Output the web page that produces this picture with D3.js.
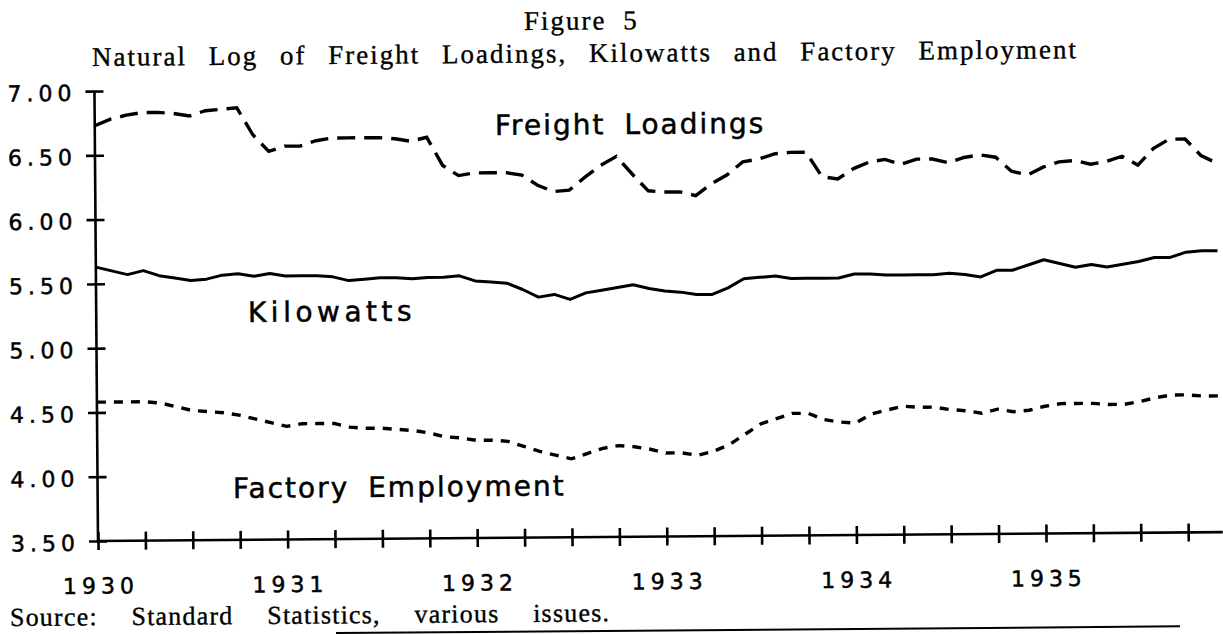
<!DOCTYPE html>
<html>
<head>
<style>
  body { margin: 0; background: #fff; }
  svg { display: block; }
  .serif { font-family: "Liberation Serif", "Times New Roman", serif; fill: #000; stroke: #000; stroke-width: 0.35px; }
  .sans { font-family: "DejaVu Sans", sans-serif; fill: #000; stroke: #000; stroke-width: 0.5px; }
  .axis path, .axis line { stroke: #000; stroke-width: 2.6px; }
</style>
</head>
<body>
<div id="chart"></div>
<script src="https://cdnjs.cloudflare.com/ajax/libs/d3/7.8.5/d3.min.js"></script>
<script>
// monthly series, Jan 1930 .. Dec 1935 (natural logs)
const years = ["1930", "1931", "1932", "1933", "1934", "1935"];
const yTicks = [3.5, 4.0, 4.5, 5.0, 5.5, 6.0, 6.5, 7.0];

const freight = [
  6.73, 6.78, 6.81, 6.83, 6.83, 6.82, 6.80, 6.84, 6.85, 6.86, 6.65, 6.52,
  6.56, 6.56, 6.60, 6.62, 6.62, 6.62, 6.62, 6.61, 6.59, 6.62, 6.40, 6.32,
  6.34, 6.34, 6.34, 6.32, 6.24, 6.19, 6.20, 6.30, 6.39, 6.46, 6.32, 6.19,
  6.18, 6.18, 6.15, 6.24, 6.31, 6.41, 6.43, 6.47, 6.48, 6.48, 6.29, 6.27,
  6.35, 6.40, 6.42, 6.38, 6.42, 6.42, 6.39, 6.43, 6.45, 6.43, 6.32, 6.29,
  6.35, 6.39, 6.40, 6.37, 6.39, 6.43, 6.36, 6.49, 6.56, 6.56, 6.43, 6.37
];
const kilowatts = [
  5.63, 5.60, 5.57, 5.60, 5.56, 5.54, 5.52, 5.53, 5.56, 5.57, 5.55, 5.57,
  5.55, 5.55, 5.55, 5.54, 5.51, 5.52, 5.53, 5.53, 5.52, 5.53, 5.53, 5.54,
  5.50, 5.49, 5.48, 5.43, 5.37, 5.39, 5.35, 5.40, 5.42, 5.44, 5.46, 5.43,
  5.41, 5.40, 5.38, 5.38, 5.43, 5.50, 5.51, 5.52, 5.50, 5.50, 5.50, 5.50,
  5.53, 5.53, 5.52, 5.52, 5.52, 5.52, 5.53, 5.52, 5.50, 5.55, 5.55, 5.59,
  5.63, 5.60, 5.57, 5.59, 5.57, 5.59, 5.61, 5.64, 5.64, 5.68, 5.69, 5.69
];
const factory = [
  4.58, 4.58, 4.58, 4.58, 4.57, 4.54, 4.51, 4.50, 4.49, 4.47, 4.44, 4.41,
  4.38, 4.40, 4.40, 4.40, 4.37, 4.36, 4.36, 4.35, 4.34, 4.32, 4.29, 4.28,
  4.26, 4.26, 4.25, 4.21, 4.17, 4.14, 4.11, 4.15, 4.19, 4.21, 4.20, 4.18,
  4.15, 4.15, 4.13, 4.16, 4.21, 4.29, 4.37, 4.41, 4.45, 4.45, 4.40, 4.38,
  4.37, 4.44, 4.47, 4.50, 4.49, 4.49, 4.47, 4.46, 4.44, 4.47, 4.45, 4.46,
  4.49, 4.51, 4.51, 4.51, 4.50, 4.50, 4.52, 4.55, 4.57, 4.57, 4.56, 4.56
];

const width = 1223, height = 634;
const svg = d3.select("#chart").append("svg")
    .attr("width", width)
    .attr("height", height);

// the scanned page sits slightly tilted, so everything is drawn in a rotated group
const tilt = -0.45;
const origin = [98, 541];
const t = Math.tan(-tilt * Math.PI / 180);
const g = svg.append("g")
    .attr("transform", `rotate(${tilt},${origin[0]},${origin[1]})`);

// position as seen on the page -> position inside the rotated group
function unrot(xo, yo) {
    return [xo - (yo - origin[1]) * t, yo + (xo - origin[0]) * t];
}

const x = d3.scaleLinear().domain([0, 71]).range([98, 98 + 71 * 15.8]);
const y = d3.scaleLinear().domain([3.5, 7]).range([541, 91]);

// y axis
const yAxis = g.append("g")
    .attr("class", "axis")
    .attr("transform", `translate(${x(0)},0)`)
    .call(d3.axisLeft(y)
        .tickValues(yTicks)
        .tickSize(9)
        .tickPadding(9)
        .tickFormat(d3.format(".2f")));
yAxis.select(".domain").attr("d", `M0,${y(7)}V${y(3.5)}`);
yAxis.selectAll(".tick line").attr("x1", 9);
yAxis.selectAll(".tick text")
    .attr("class", "sans")
    .attr("dy", "0.42em")
    .style("font-size", "22px")
    .style("letter-spacing", "5px");

// x axis, quarterly ticks
const xAxis = g.append("g")
    .attr("class", "axis")
    .attr("transform", `translate(0,${y(3.5)})`)
    .call(d3.axisBottom(x)
        .tickValues(d3.range(0, 72, 3))
        .tickSize(9)
        .tickFormat(""));
xAxis.select(".domain").attr("d", `M${x(0)},0H${x(71) + 3}`);
xAxis.selectAll(".tick line").attr("y1", -9);

// year labels
const yearAxis = g.append("g")
    .attr("transform", `translate(0,${y(3.5)})`)
    .call(d3.axisBottom(x)
        .tickValues(d3.range(0, 72, 12))
        .tickSize(0)
        .tickPadding(37)
        .tickFormat((d, i) => years[i]));
yearAxis.select(".domain").remove();
yearAxis.selectAll(".tick text")
    .attr("class", "sans")
    .attr("dx", "2px")
    .style("font-size", "22px")
    .style("letter-spacing", "5px");

// series
const line = d3.line()
    .x((d, i) => x(i))
    .y(d => y(d));

g.append("path")
    .datum(freight)
    .attr("d", line)
    .attr("fill", "none")
    .attr("stroke", "#000")
    .attr("stroke-width", 3.4)
    .attr("stroke-dasharray", "18,9");

g.append("path")
    .datum(kilowatts)
    .attr("d", line)
    .attr("fill", "none")
    .attr("stroke", "#000")
    .attr("stroke-width", 3)
    .attr("stroke-linejoin", "round");

g.append("path")
    .datum(factory)
    .attr("d", line)
    .attr("fill", "none")
    .attr("stroke", "#000")
    .attr("stroke-width", 3.4)
    .attr("stroke-dasharray", "9,8");

// texts
function label(text, xo, yo, cls, size, ls, ws) {
    const p = unrot(xo, yo);
    g.append("text")
        .attr("class", cls)
        .attr("x", p[0])
        .attr("y", p[1])
        .style("font-size", size + "px")
        .style("letter-spacing", ls + "px")
        .style("word-spacing", ws + "px")
        .text(text);
}

label("Figure 5", 524, 30, "serif", 27, 2, 8);
label("Natural Log of Freight Loadings, Kilowatts and Factory Employment", 92, 66, "serif", 27, 2, 13);
label("Freight Loadings", 495, 135, "sans", 28, 2, 8);
label("Kilowatts", 248, 322, "sans", 28, 4.5, 0);
label("Factory Employment", 233, 498, "sans", 28, 2, 8);
label("Source: Standard Statistics, various issues.", 10, 626, "serif", 26, 1.2, 26);

// rule under the source note
const r0 = unrot(336, 633), r1 = unrot(1180, 627);
g.append("line")
    .attr("x1", r0[0]).attr("y1", r0[1])
    .attr("x2", r1[0]).attr("y2", r0[1])
    .attr("stroke", "#000")
    .attr("stroke-width", 2);
</script>
</body>
</html>
